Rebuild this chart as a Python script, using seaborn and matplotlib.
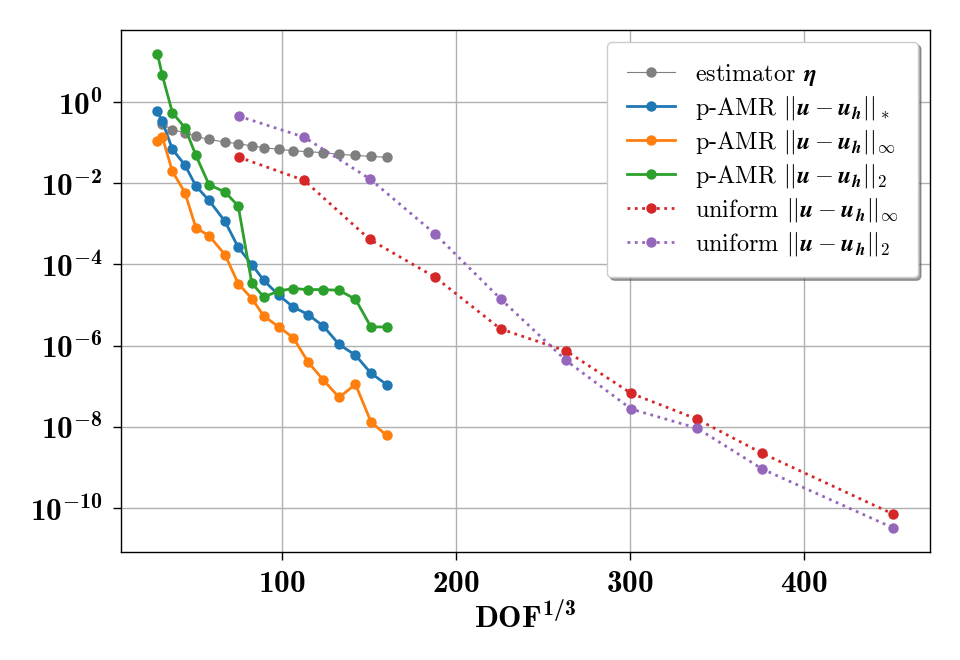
import numpy as np
import matplotlib
matplotlib.use('Agg')
import matplotlib.pyplot as plt
import seaborn as sb

# DOF^(1/3) of the adaptive (p-AMR) runs and the uniform runs
dof_amr = [28.6, 31.4, 37.2, 44.4, 50.7, 58.2, 67.4, 75.0, 82.8, 89.7,
           98.3, 106.6, 115.1, 124.0, 133.0, 142.4, 151.3, 160.3]
dof_uni = [75.3, 112.9, 150.5, 188.2, 225.8, 263.4, 301.0, 338.7, 376.3, 451.6]

estimator = [2.83e-1, 2.09e-1, 1.76e-1, 1.43e-1, 1.20e-1, 1.04e-1, 9.44e-2,
             8.34e-2, 7.57e-2, 6.84e-2, 6.35e-2, 6.00e-2, 5.68e-2, 5.15e-2,
             4.86e-2, 4.60e-2, 4.35e-2]
amr_star = [5.90e-1, 3.35e-1, 6.84e-2, 2.81e-2, 8.53e-3, 3.79e-3, 1.15e-3,
            2.64e-4, 9.89e-5, 4.06e-5, 1.73e-5, 8.93e-6, 5.81e-6, 2.99e-6,
            1.06e-6, 5.77e-7, 2.08e-7, 1.09e-7]
amr_inf = [1.09e-1, 1.37e-1, 1.96e-2, 5.86e-3, 7.89e-4, 5.12e-4, 1.74e-4,
           3.37e-5, 1.44e-5, 5.36e-6, 2.87e-6, 1.57e-6, 3.94e-7, 1.40e-7,
           5.24e-8, 1.11e-7, 1.31e-8, 6.07e-9]
amr_l2 = [1.56e1, 4.55, 5.48e-1, 2.34e-1, 4.86e-2, 9.25e-3, 6.07e-3, 2.77e-3,
          3.48e-5, 1.57e-5, 2.21e-5, 2.54e-5, 2.39e-5, 2.39e-5, 2.30e-5,
          1.38e-5, 2.87e-6, 2.87e-6]
uni_inf = [4.42e-2, 1.18e-2, 4.15e-4, 4.81e-5, 2.56e-6, 7.36e-7, 6.58e-8,
           1.53e-8, 2.19e-9, 6.92e-11]
uni_l2 = [4.52e-1, 1.37e-1, 1.30e-2, 5.61e-4, 1.41e-5, 4.28e-7, 2.70e-8,
          9.18e-9, 8.97e-10, 3.16e-11]

xticks = [100, 200, 300, 400]
yticks = [1e0, 1e-2, 1e-4, 1e-6, 1e-8, 1e-10]

plt.rcParams['font.family'] = 'serif'
plt.rcParams['font.serif'] = ['cmr10']
plt.rcParams['mathtext.fontset'] = 'cm'
# 'custom' math set (used for the bold tick labels only)
plt.rcParams['mathtext.rm'] = 'cmr10'
plt.rcParams['mathtext.it'] = 'cmmi10'
plt.rcParams['mathtext.bf'] = 'cmb10'
plt.rcParams['axes.formatter.use_mathtext'] = True
plt.rcParams['axes.unicode_minus'] = False

pal = sb.color_palette('tab10').as_hex()

fig, ax = plt.subplots(figsize=(9.6, 6.6), dpi=100)
fig.subplots_adjust(left=0.1257, right=0.969, bottom=0.164, top=0.9545)

norm = r'||\boldsymbol{u}-\boldsymbol{u}_{\boldsymbol{h}}||'
ms = 7.5

sb.lineplot(x=dof_amr[1:], y=estimator, color='#7f7f7f', marker='o',
            markersize=ms, markeredgewidth=0, linewidth=0.8,
            label=r'estimator $\boldsymbol{\eta}$', ax=ax)
sb.lineplot(x=dof_amr, y=amr_star, color=pal[0], marker='o',
            markersize=ms, markeredgewidth=0, linewidth=2,
            label=r'p-AMR $' + norm + r'_*$', ax=ax)
sb.lineplot(x=dof_amr, y=amr_inf, color=pal[1], marker='o',
            markersize=ms, markeredgewidth=0, linewidth=2,
            label=r'p-AMR $' + norm + r'_\infty$', ax=ax)
sb.lineplot(x=dof_amr, y=amr_l2, color=pal[2], marker='o',
            markersize=ms, markeredgewidth=0, linewidth=2,
            label=r'p-AMR $' + norm + r'_\mathbf{2}$', ax=ax)
sb.lineplot(x=dof_uni, y=uni_inf, color=pal[3], marker='o',
            markersize=ms, markeredgewidth=0, linewidth=2, linestyle=':',
            label=r'uniform $' + norm + r'_\infty$', ax=ax)
sb.lineplot(x=dof_uni, y=uni_l2, color=pal[4], marker='o',
            markersize=ms, markeredgewidth=0, linewidth=2, linestyle=':',
            label=r'uniform $' + norm + r'_\mathbf{2}$', ax=ax)

ax.set_yscale('log')
ax.set_xticks(xticks, [r'$\mathbf{%d}$' % t for t in xticks],
              math_fontfamily='custom')
ax.set_yticks(yticks, [r'$\mathbf{10^{%d}}$' % int(np.log10(t)) for t in yticks],
              math_fontfamily='custom')
ax.minorticks_off()
ax.tick_params(axis='both', labelsize=22.5, length=6, width=1, pad=7)
ax.set_xlabel(r'$\mathbf{DOF^{1/3}}$', fontsize=22.5, labelpad=3,
              math_fontfamily='custom')
ax.grid(True, color='#b0b0b0', linewidth=1)
ax.set_axisbelow(True)
for s in ax.spines.values():
    s.set_linewidth(1)
    s.set_color('black')

ax.legend(loc='upper right', fontsize=17.5, shadow=True, framealpha=1,
          handlelength=2.0, borderpad=0.8, labelspacing=0.25)

plt.savefig('out.png', dpi=100)
